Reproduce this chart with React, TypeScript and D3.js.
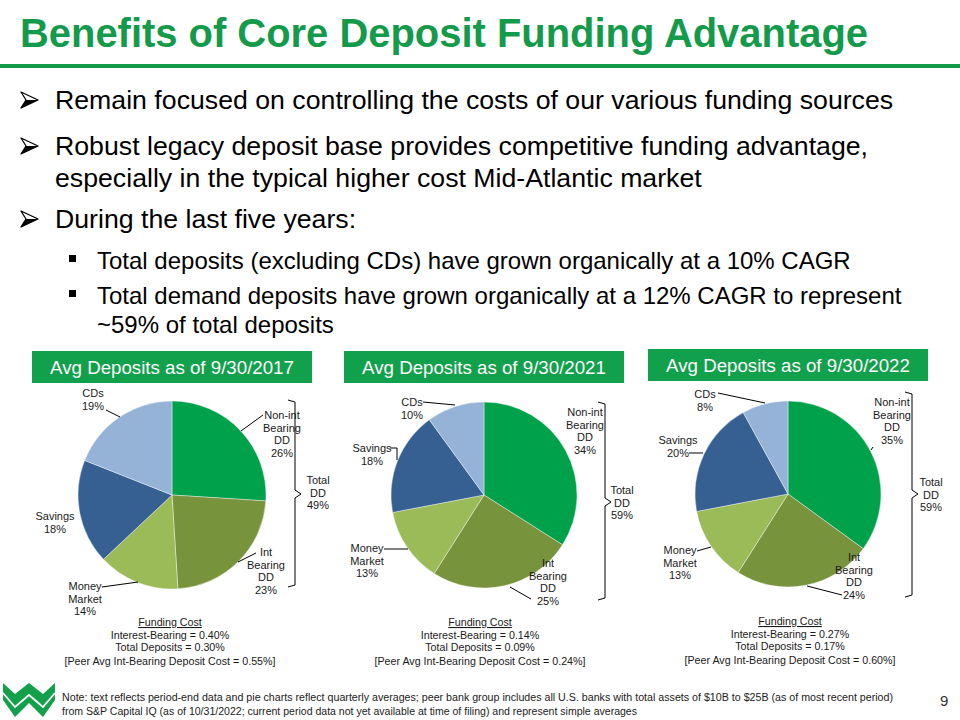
import React from 'react';
import * as d3 from 'd3';

// chart data
const categories = ['Non-int Bearing DD', 'Int Bearing DD', 'Money Market', 'Savings', 'CDs'];
const categoryLines = [['Non-int', 'Bearing', 'DD'], ['Int', 'Bearing', 'DD'], ['Money', 'Market'], ['Savings'], ['CDs']];
const periods = ['9/30/2017', '9/30/2021', '9/30/2022'];
const values2017 = [26, 23, 14, 18, 19];
const values2021 = [34, 25, 13, 18, 10];
const values2022 = [35, 24, 13, 20, 8];
const totalDD = [49, 59, 59];
const intBearingCost = ['0.40%', '0.14%', '0.27%'];
const totalDepositCost = ['0.30%', '0.09%', '0.17%'];
const peerCost = ['0.55%', '0.24%', '0.60%'];

const sliceColors = ['#00A14B', '#77933C', '#9BBB59', '#366092', '#95B3D7'];
const GREEN = '#139A4A';
const FONT = '"Liberation Sans", Arial, Helvetica, sans-serif';

// layout: label offsets relative to each pie's centre
type LabelPos = { dx: number; dy: number; leader?: [number, number][] };
type PanelLayout = {
  cx: number; cy: number; r: number; headerY: number;
  labels: LabelPos[];
  total: { dx: number; dy: number; bx: number; top: number; bottom: number; mid: number };
  fundDx: number;
};

const layouts: PanelLayout[] = [
  {
    cx: 172, cy: 495, r: 94, headerY: 351,
    labels: [
      { dx: 110, dy: -80, leader: [[69, -64], [91, -80]] },
      { dx: 94, dy: 57, leader: [[66, 67], [84, 58]] },
      { dx: -87, dy: 91, leader: [[-34, 87], [-70, 92]] },
      { dx: -117, dy: 21 },
      { dx: -79, dy: -102, leader: [[-66, -85], [-52, -78]] },
    ],
    total: { dx: 146, dy: -15, bx: 123, top: -95, bottom: 92, mid: -1 },
    fundDx: -2,
  },
  {
    cx: 484, cy: 495, r: 93, headerY: 351,
    labels: [
      { dx: 101, dy: -83 },
      { dx: 64, dy: 68, leader: [[26, 92], [47, 104]] },
      { dx: -117, dy: 53, leader: [[-100, 54], [-76, 54]] },
      { dx: -112, dy: -47, leader: [[-94, -47], [-87, -47], [-87, -35]] },
      { dx: -72, dy: -93, leader: [[-61, -93], [-29, -90]] },
    ],
    total: { dx: 138, dy: -5, bx: 121, top: -93, bottom: 105, mid: 7 },
    fundDx: -4,
  },
  {
    cx: 788, cy: 494, r: 93, headerY: 349,
    labels: [
      { dx: 104, dy: -92, leader: [[83, -44], [85, -47]] },
      { dx: 66, dy: 63, leader: [[19, 92], [54, 101]] },
      { dx: -108, dy: 56, leader: [[-91, 57], [-77, 53]] },
      { dx: -110, dy: -54, leader: [[-99, -41], [-85, -41]] },
      { dx: -83, dy: -100, leader: [[-70, -101], [-23, -91]] },
    ],
    total: { dx: 143, dy: -12, bx: 124, top: -102, bottom: 103, mid: 0 },
    fundDx: 2,
  },
];

const seriesByPeriod = [values2017, values2021, values2022];

const PiePanel = ({ index }: { index: number }) => {
  const L = layouts[index];
  const values = seriesByPeriod[index];
  const arcs = d3.pie<number>().sort(null).value(d => d)(values);
  const arcGen = d3.arc<d3.PieArcDatum<number>>().innerRadius(0).outerRadius(L.r);
  const line = d3.line();
  const t = L.total;
  const lh = 12.5;

  return (
    <g>
      <rect x={L.cx - 140} y={L.headerY} width={280} height={32} fill="#11A04B" />
      <text x={L.cx} y={L.headerY + 23} textAnchor="middle" fill="#fff" fontSize={18.7} fontFamily={FONT}>
        Avg Deposits as of {periods[index]}
      </text>
      <g transform={`translate(${L.cx},${L.cy})`}>
        {arcs.map((a, i) => (
          <path key={categories[i]} d={arcGen(a) || ''} fill={sliceColors[i]} stroke="#fff" strokeWidth={0.4} />
        ))}
        {L.labels.map((lab, i) => (
          <g key={'l' + i}>
            {lab.leader && <path d={line(lab.leader) || ''} fill="none" stroke="#000" strokeWidth={1} />}
            <text textAnchor="middle" fontSize={11} fontFamily={FONT} fill="#1a1a1a">
              {[...categoryLines[i], `${values[i]}%`].map((s, k) => (
                <tspan key={k} x={lab.dx} y={lab.dy + k * lh + 4}>{s}</tspan>
              ))}
            </text>
          </g>
        ))}
        <path
          d={`M${t.bx - 7},${t.top} L${t.bx},${t.top + 2} L${t.bx},${t.mid - 4} L${t.bx + 6},${t.mid} L${t.bx},${t.mid + 4} L${t.bx},${t.bottom - 2} L${t.bx - 7},${t.bottom}`}
          fill="none" stroke="#000" strokeWidth={1}
        />
        <text textAnchor="middle" fontSize={11} fontFamily={FONT} fill="#1a1a1a">
          {['Total', 'DD', `${totalDD[index]}%`].map((s, k) => (
            <tspan key={k} x={t.dx} y={t.dy + k * lh + 4}>{s}</tspan>
          ))}
        </text>
        <text textAnchor="middle" fontSize={10.7} fontFamily={FONT} fill="#1a1a1a">
          <tspan x={L.fundDx} y={131} textDecoration="underline">Funding Cost</tspan>
          <tspan x={L.fundDx} y={143.5}>Interest-Bearing = {intBearingCost[index]}</tspan>
          <tspan x={L.fundDx} y={156}>Total Deposits = {totalDepositCost[index]}</tspan>
          <tspan x={L.fundDx} y={170}>[Peer Avg Int-Bearing Deposit Cost = {peerCost[index]}]</tspan>
        </text>
      </g>
    </g>
  );
};

const Arrow = ({ x, y }: { x: number; y: number }) => (
  <g transform={`translate(${x},${y})`}>
    <path d="M0,-8 L17,0 L0,8 L5,0 Z" fill="none" stroke="#000" strokeWidth={1.3} strokeLinejoin="round" />
    <path d="M5,0 L17,0 L0,8 Z" fill="#000" />
  </g>
);

const bullets = [
  { y: 109, lines: ['Remain focused on controlling the costs of our various funding sources'] },
  { y: 155, lines: ['Robust legacy deposit base provides competitive funding advantage,', 'especially in the typical higher cost Mid-Atlantic market'] },
  { y: 228, lines: ['During the last five years:'] },
];
const subBullets = [
  { y: 269, lines: ['Total deposits (excluding CDs) have grown organically at a 10% CAGR'] },
  { y: 304, lines: ['Total demand deposits have grown organically at a 12% CAGR to represent', '~59% of total deposits'] },
];

export default function App() {
  return (
    <svg width={960} height={720} style={{ position: 'absolute', left: 0, top: 0, background: '#fff' }} fontFamily={FONT}>
      <rect width={960} height={720} fill="#fff" />
      <text x={20} y={47} fontSize={40} fontWeight="bold" fill={GREEN} textLength={848} lengthAdjust="spacingAndGlyphs">
        Benefits of Core Deposit Funding Advantage
      </text>
      <rect x={0} y={64} width={960} height={4} fill={GREEN} />

      {bullets.map((b, i) => (
        <g key={'b' + i}>
          <Arrow x={21} y={b.y - 9} />
          {b.lines.map((s, k) => (
            <text key={k} x={55} y={b.y + k * 32} fontSize={26.7} fill="#000">{s}</text>
          ))}
        </g>
      ))}
      {subBullets.map((b, i) => (
        <g key={'s' + i}>
          <rect x={69} y={b.y - 14} width={7} height={7} fill="#000" />
          {b.lines.map((s, k) => (
            <text key={k} x={97} y={b.y + k * 29} fontSize={24} fill="#000">{s}</text>
          ))}
        </g>
      ))}

      {layouts.map((_, i) => <PiePanel key={i} index={i} />)}

      <polygon
        points="3,683 15,694 29,683 43,694 55,683 55,700 43,717 29,703 15,717 3,700"
        fill="#12A04B"
      />
      <polyline points="3,693 15,707 29,695 43,707 55,693" fill="none" stroke="#fff" strokeWidth={1.8} />
      <text x={62} y={701} fontSize={10} fill="#222" textLength={831} lengthAdjust="spacingAndGlyphs">
        Note: text reflects period-end data and pie charts reflect quarterly averages; peer bank group includes all U.S. banks with total assets of $10B to $25B (as of most recent period)
      </text>
      <text x={62} y={715} fontSize={10} fill="#222" textLength={575} lengthAdjust="spacingAndGlyphs">
        from S&amp;P Capital IQ (as of 10/31/2022; current period data not yet available at time of filing) and represent simple averages
      </text>
      <text x={940} y={706} fontSize={15} fill="#333">9</text>
    </svg>
  );
}
